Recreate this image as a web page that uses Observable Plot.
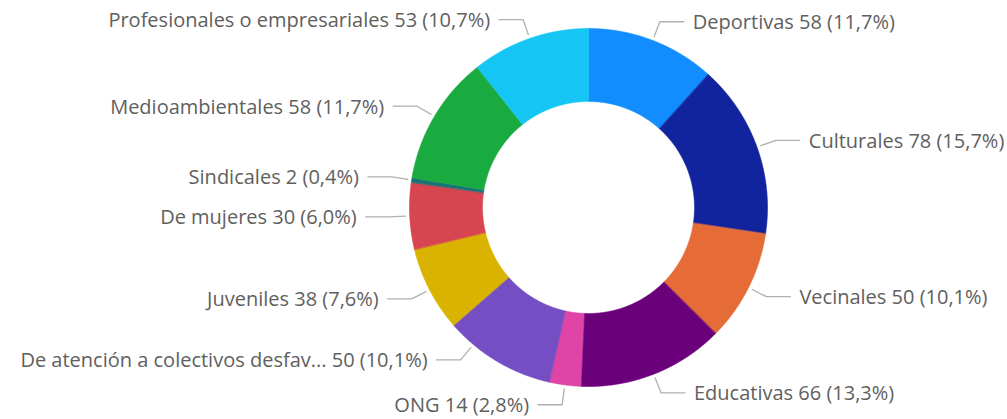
<!DOCTYPE html>
<html>
<head>
<meta charset="utf-8">
<script src="https://cdn.jsdelivr.net/npm/d3@7"></script>
<script src="https://cdn.jsdelivr.net/npm/@observablehq/plot@0.6"></script>
<style>
  html, body { margin: 0; padding: 0; background: #ffffff; }
</style>
</head>
<body>
<div id="chart"></div>
<script>
// ---- data ----
const categories = [
  "Deportivas",
  "Culturales",
  "Vecinales",
  "Educativas",
  "ONG",
  "De atención a colectivos desfav...",
  "Juveniles",
  "De mujeres",
  "Sindicales",
  "Medioambientales",
  "Profesionales o empresariales"
];
const values = [58, 78, 50, 66, 14, 50, 38, 30, 2, 58, 53];
const colors = [
  "#118DFF", "#12239E", "#E66C37", "#6B007B", "#E044A7",
  "#744EC2", "#D9B300", "#D64550", "#197278", "#1AAB40", "#15C6F4"
];

// ---- layout ----
const W = 1007, H = 419, CX = 588, CY = 207;
const R_OUT = 179, R_IN = 106;
const LEAD_START = R_OUT + 4, LEAD_ELBOW = R_OUT + 20, LEAD_H = 24, TEXT_GAP = 9;
// the reporting tool nudged this one label away from its slice midpoint
const leaderAngleOverride = { "De atención a colectivos desfav...": 220 };

const total = d3.sum(values);
const fmtPct = v => (v / total * 100).toFixed(1).replace(".", ",") + "%";
const deg = Math.PI / 180;
const pt = (r, a) => ({ x: r * Math.sin(a), y: r * Math.cos(a) });

let acc = 0;
const slices = categories.map((name, i) => {
  const a0 = acc / total * 2 * Math.PI;
  acc += values[i];
  const a1 = acc / total * 2 * Math.PI;
  return { name, value: values[i], a0, a1 };
});

// ring polygons (arc geometry sampled along each slice's angles)
const ringPts = slices.flatMap(s => {
  const n = Math.max(2, Math.ceil((s.a1 - s.a0) / (0.25 * deg)) + 1);
  const outer = d3.range(n).map(k => pt(R_OUT, s.a0 + (s.a1 - s.a0) * k / (n - 1)));
  const inner = d3.range(n).map(k => pt(R_IN, s.a1 - (s.a1 - s.a0) * k / (n - 1)));
  return [...outer, ...inner].map(p => ({ ...p, name: s.name }));
});

const leaders = [];
const labels = [];
slices.forEach(s => {
  const a = (leaderAngleOverride[s.name] !== undefined)
    ? leaderAngleOverride[s.name] * deg
    : (s.a0 + s.a1) / 2;
  const side = Math.sin(a) >= 0 ? 1 : -1;
  const p0 = pt(LEAD_START, a);
  const p1 = pt(LEAD_ELBOW, a);
  const p2 = { x: p1.x + side * LEAD_H, y: p1.y };
  [p0, p1, p2].forEach(p => leaders.push({ ...p, name: s.name }));
  labels.push({
    x: p2.x + side * TEXT_GAP,
    y: p2.y,
    side,
    text: `${s.name} ${s.value} (${fmtPct(s.value)})`
  });
});

const font = "'Open Sans', 'Segoe UI', sans-serif";

const chart = Plot.plot({
  width: W,
  height: H,
  margin: 0,
  x: { domain: [-CX, W - CX], axis: null },
  y: { domain: [CY - H, CY], axis: null },
  color: { domain: categories, range: colors },
  style: { background: "#ffffff", fontFamily: font },
  marks: [
    Plot.line(ringPts, {
      x: "x", y: "y", z: "name",
      fill: "name", stroke: "name", strokeWidth: 0.6,
      curve: "linear-closed"
    }),
    Plot.line(leaders, {
      x: "x", y: "y", z: "name",
      stroke: "#b0b0b0", strokeWidth: 1.3, curve: "linear"
    }),
    Plot.text(labels.filter(d => d.side > 0), {
      x: "x", y: "y", text: "text", textAnchor: "start",
      fontSize: 20, fill: "#606060", fontFamily: font, dy: 1
    }),
    Plot.text(labels.filter(d => d.side < 0), {
      x: "x", y: "y", text: "text", textAnchor: "end",
      fontSize: 20, fill: "#606060", fontFamily: font, dy: 1
    })
  ]
});
document.getElementById("chart").appendChild(chart);
</script>
</body>
</html>
